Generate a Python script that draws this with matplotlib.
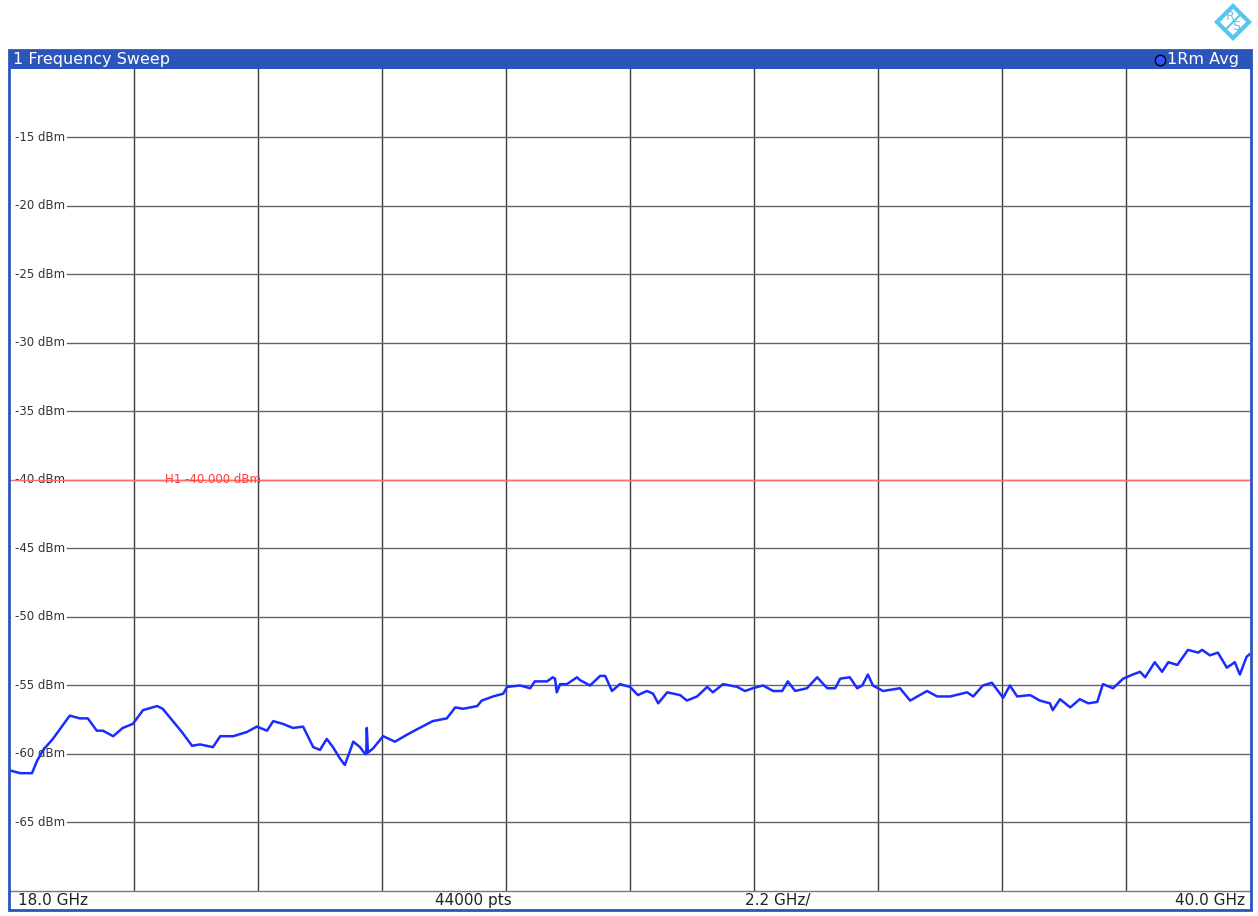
import matplotlib.pyplot as plt
from matplotlib.patches import Rectangle, Polygon
from matplotlib.lines import Line2D

# trace (GHz, dBm)
freq_ghz = [18.00, 18.18, 18.39, 18.48, 18.59, 18.76, 18.92, 19.06, 19.24, 19.38,
            19.54, 19.65, 19.83, 20.00, 20.18, 20.36, 20.61, 20.71, 20.89, 21.05,
            21.23, 21.37, 21.60, 21.73, 21.96, 22.20, 22.38, 22.56, 22.67, 22.84,
            23.02, 23.20, 23.38, 23.50, 23.62, 23.73, 23.85, 23.94, 24.03, 24.09,
            24.21, 24.30, 24.32, 24.33, 24.35, 24.44, 24.62, 24.83, 25.04, 25.22,
            25.50, 25.75, 25.90, 26.04, 26.29, 26.37, 26.57, 26.75, 26.82, 27.05,
            27.23, 27.31, 27.53, 27.63, 27.67, 27.70, 27.76, 27.88, 28.06, 28.11,
            28.29, 28.47, 28.56, 28.68, 28.82, 29.00, 29.14, 29.30, 29.41, 29.50,
            29.66, 29.89, 30.01, 30.19, 30.37, 30.47, 30.65, 30.90, 31.04, 31.18,
            31.36, 31.54, 31.70, 31.80, 31.93, 32.14, 32.32, 32.50, 32.64, 32.73,
            32.90, 33.03, 33.12, 33.22, 33.31, 33.49, 33.79, 33.97, 34.27, 34.45,
            34.68, 34.98, 35.09, 35.26, 35.42, 35.62, 35.74, 35.87, 36.10, 36.27,
            36.45, 36.50, 36.63, 36.81, 36.98, 37.13, 37.29, 37.39, 37.57, 37.75,
            37.92, 38.05, 38.14, 38.31, 38.44, 38.55, 38.71, 38.90, 39.08, 39.15,
            39.29, 39.43, 39.59, 39.73, 39.82, 39.94, 40.00]
level_dbm = [-61.2, -61.4, -61.4, -60.5, -59.7, -58.9, -58.0, -57.2, -57.4, -57.4,
             -58.3, -58.3, -58.7, -58.1, -57.8, -56.8, -56.5, -56.7, -57.6, -58.4,
             -59.4, -59.3, -59.5, -58.7, -58.7, -58.4, -58.0, -58.3, -57.6, -57.8,
             -58.1, -58.0, -59.5, -59.7, -58.9, -59.5, -60.3, -60.8, -59.8, -59.1,
             -59.5, -60.0, -60.0, -58.1, -59.9, -59.6, -58.7, -59.1, -58.6, -58.2,
             -57.6, -57.4, -56.6, -56.7, -56.5, -56.1, -55.8, -55.6, -55.1, -55.0,
             -55.2, -54.7, -54.7, -54.4, -54.5, -55.5, -54.9, -54.9, -54.4, -54.6,
             -55.0, -54.3, -54.3, -55.4, -54.9, -55.1, -55.7, -55.4, -55.6, -56.3,
             -55.5, -55.7, -56.1, -55.8, -55.1, -55.5, -54.9, -55.1, -55.4, -55.2,
             -55.0, -55.4, -55.4, -54.7, -55.4, -55.2, -54.4, -55.2, -55.2, -54.5,
             -54.4, -55.2, -55.0, -54.2, -55.0, -55.4, -55.2, -56.1, -55.4, -55.8,
             -55.8, -55.5, -55.8, -55.0, -54.8, -55.9, -55.0, -55.8, -55.7, -56.1,
             -56.3, -56.8, -56.0, -56.6, -56.0, -56.3, -56.2, -54.9, -55.2, -54.5,
             -54.2, -54.0, -54.4, -53.3, -54.0, -53.3, -53.5, -52.4, -52.6, -52.4,
             -52.8, -52.6, -53.7, -53.3, -54.2, -52.9, -52.7]

level_ticks = [-15, -20, -25, -30, -35, -40, -45, -50, -55, -60, -65]
f_start, f_stop, f_div = 18.0, 40.0, 2.2
ref_top, ref_bottom = -10, -70
h1_level = -40.0

W, H = 1258, 916
blue_bar = '#2c55bb'

fig = plt.figure(figsize=(W / 100, H / 100), dpi=100)
fig.patch.set_facecolor('white')

def fx(px):
    return px / W

def fy(py):
    return 1 - py / H

# outer frame + title bar
fig.patches.append(Rectangle((fx(9), fy(910)), fx(1242), 860 / H, transform=fig.transFigure,
                             facecolor='none', edgecolor=blue_bar, lw=2, zorder=5))
fig.patches.append(Rectangle((fx(9), fy(69)), fx(1242), 19 / H, transform=fig.transFigure,
                             facecolor=blue_bar, edgecolor=blue_bar, lw=0, zorder=5))
fig.text(fx(13), fy(59.5), '1 Frequency Sweep', color='white', fontsize=11.5,
         va='center', ha='left', zorder=6)
fig.text(fx(1239), fy(59.5), '1Rm Avg', color='white', fontsize=11.5, va='center',
         ha='right', zorder=6)
fig.lines.append(Line2D([fx(1160)], [fy(60)], transform=fig.transFigure, marker='o', ms=7.5,
                        mfc='#3355ff', mec='black', mew=1.0, zorder=6))

# R&S logo
logo_c = '#55c6ee'
cx, cy, r = 1233, 22, 16
fig.patches.append(Polygon([(fx(cx), fy(cy - r)), (fx(cx + r), fy(cy)), (fx(cx), fy(cy + r)),
                            (fx(cx - r), fy(cy))], closed=True, transform=fig.transFigure,
                           facecolor='none', edgecolor=logo_c, lw=3))
fig.lines.append(Line2D([fx(cx - 8), fx(cx + 8)], [fy(cy + 8), fy(cy - 8)],
                        transform=fig.transFigure, color=logo_c, lw=1.5))
fig.text(fx(cx - 3), fy(cy - 5), 'R', color=logo_c, fontsize=9, ha='center', va='center')
fig.text(fx(cx + 3), fy(cy + 5), 'S', color=logo_c, fontsize=9, ha='center', va='center')

# bottom info bar
bar_kw = dict(fontsize=11, color='#222222', va='center')
fig.text(fx(18), fy(900.5), '%.1f GHz' % f_start, **bar_kw)
fig.text(fx(435), fy(900.5), '44000 pts', **bar_kw)
fig.text(fx(745), fy(900.5), '%.1f GHz/' % f_div, **bar_kw)
fig.text(fx(1245), fy(900.5), '%.1f GHz' % f_stop, ha='right', **bar_kw)

# diagram
ax = fig.add_axes([fx(10), fy(891), 1240 / W, 822 / H])
ax.set_xlim(f_start, f_stop)
ax.set_ylim(ref_bottom, ref_top)
ax.set_xticks([])
ax.set_yticks([])
for s in ['top', 'left', 'right']:
    ax.spines[s].set_visible(False)
ax.spines['bottom'].set_color('#777777')
ax.spines['bottom'].set_linewidth(1)

for k in range(1, 10):
    ax.axvline(f_start + k * f_div, color='#3c3c3c', lw=1, zorder=1)
label_end = 57 / 1240
for lv in level_ticks:
    ax.axhline(lv, xmin=label_end, color='#666666', lw=1, zorder=1)
    ax.text(f_start + 0.09, lv, '%d dBm' % lv, fontsize=8.5, color='#333333',
            va='center', ha='left', zorder=2)

ax.axhline(h1_level, color='#ff6e6e', lw=1, zorder=2)
ax.text(20.75, h1_level, 'H1 %.3f dBm' % h1_level, fontsize=8.5, color='#ff3b3b',
        va='center', ha='left', zorder=3)

ax.plot(freq_ghz, level_dbm, color='#1a2cff', lw=1.8, zorder=4, solid_joinstyle='round')

fig.savefig('out.png', dpi=100, facecolor='white')
